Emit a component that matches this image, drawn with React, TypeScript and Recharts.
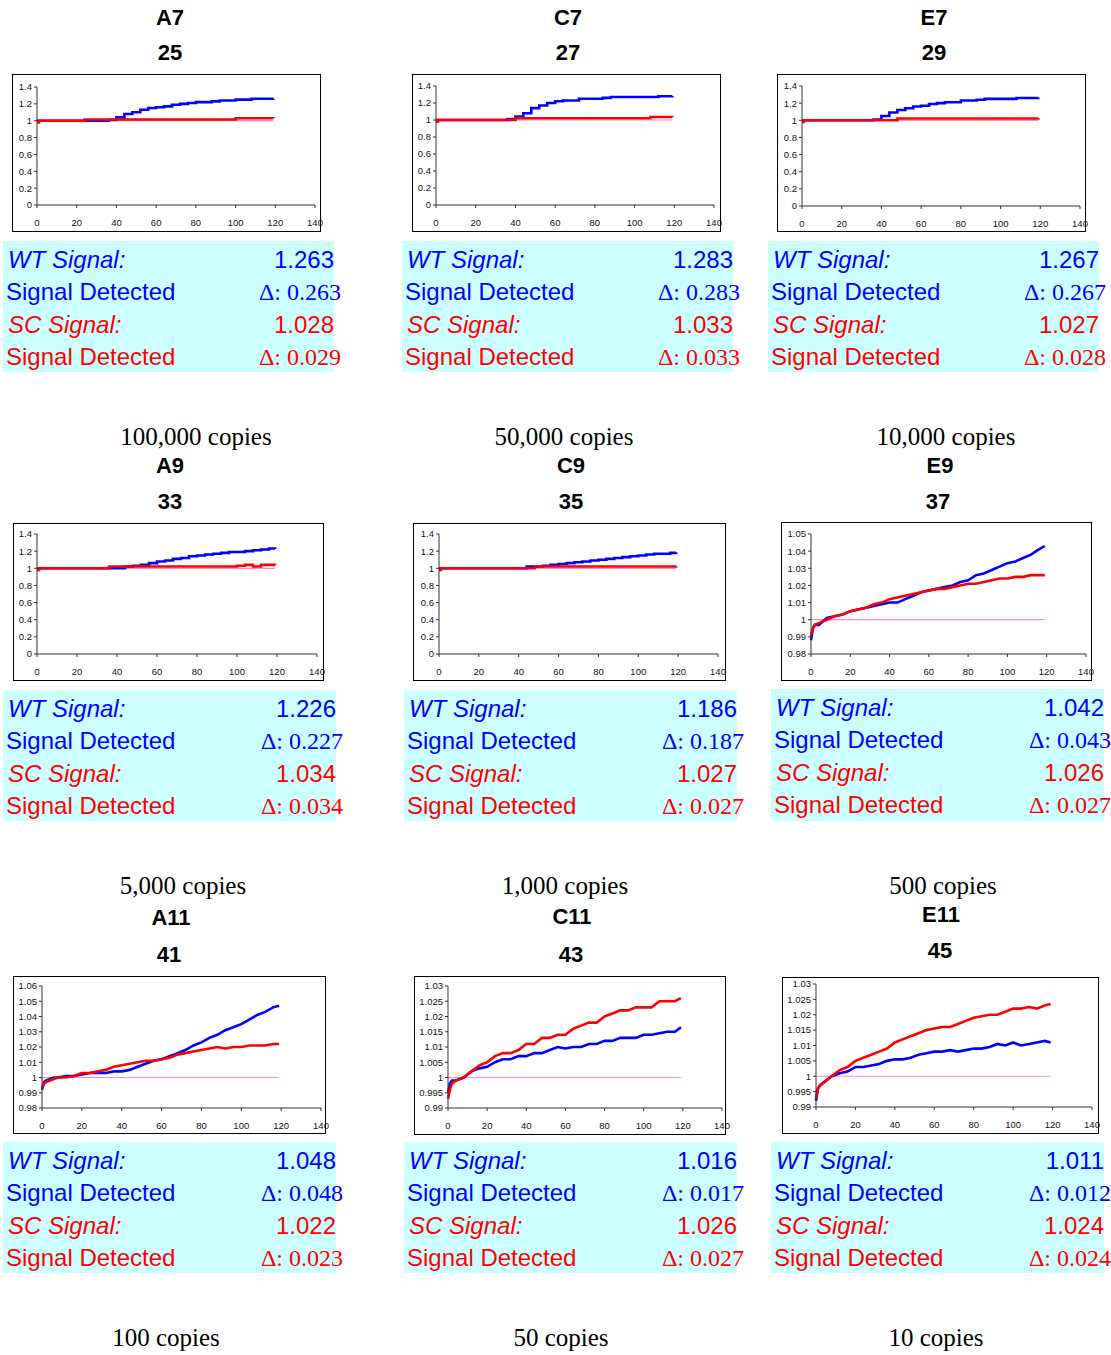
import React from "react";
import { LineChart, Line, XAxis, YAxis } from "recharts";

// sample times shared by every well
const T = [0, 1, 2, 4, 6, 8, 12, 16, 20, 24, 28, 32, 36, 40, 44, 48, 52, 56, 60, 64, 68, 72, 76, 80, 84, 88, 92, 96, 100, 104, 108, 112, 116, 119];

const A7_WT = [1.0, 1.0, 1.0, 1.0, 1.0, 1.0, 1.0, 1.0, 1.0, 1.0, 1.0, 1.0, 1.01, 1.04, 1.08, 1.10, 1.13, 1.15, 1.16, 1.17, 1.19, 1.20, 1.21, 1.22, 1.22, 1.23, 1.24, 1.24, 1.25, 1.25, 1.26, 1.26, 1.26, 1.263];
const A7_SC = [0.98, 1.0, 1.0, 1.0, 1.0, 1.0, 1.0, 1.0, 1.0, 1.015, 1.015, 1.015, 1.015, 1.015, 1.015, 1.015, 1.015, 1.015, 1.015, 1.015, 1.015, 1.015, 1.015, 1.015, 1.015, 1.015, 1.015, 1.015, 1.03, 1.03, 1.03, 1.03, 1.03, 1.028];

const C7_WT = [1.0, 1.0, 1.0, 1.0, 1.0, 1.0, 1.0, 1.0, 1.0, 1.0, 1.0, 1.0, 1.01, 1.04, 1.08, 1.14, 1.17, 1.20, 1.22, 1.23, 1.23, 1.25, 1.25, 1.25, 1.26, 1.27, 1.27, 1.27, 1.27, 1.27, 1.27, 1.28, 1.28, 1.283];
const C7_SC = [0.98, 1.0, 1.0, 1.0, 1.0, 1.0, 1.0, 1.0, 1.0, 1.0, 1.0, 1.0, 1.0, 1.02, 1.02, 1.02, 1.02, 1.02, 1.02, 1.02, 1.02, 1.02, 1.02, 1.02, 1.02, 1.02, 1.02, 1.02, 1.02, 1.02, 1.035, 1.035, 1.035, 1.033];

const E7_WT = [1.0, 1.0, 1.0, 1.0, 1.0, 1.0, 1.0, 1.0, 1.0, 1.0, 1.0, 1.0, 1.01, 1.05, 1.09, 1.12, 1.14, 1.16, 1.17, 1.19, 1.20, 1.21, 1.21, 1.23, 1.23, 1.24, 1.25, 1.25, 1.25, 1.25, 1.26, 1.26, 1.26, 1.267];
const E7_SC = [0.98, 1.0, 1.0, 1.0, 1.0, 1.0, 1.0, 1.0, 1.0, 1.0, 1.0, 1.0, 1.0, 1.0, 1.0, 1.02, 1.02, 1.02, 1.02, 1.02, 1.02, 1.02, 1.02, 1.02, 1.02, 1.02, 1.02, 1.02, 1.02, 1.02, 1.02, 1.02, 1.02, 1.027];

const A9_WT = [1.0, 1.0, 1.0, 1.0, 1.0, 1.0, 1.0, 1.0, 1.0, 1.0, 1.0, 1.0, 1.0, 1.0, 1.02, 1.03, 1.04, 1.06, 1.08, 1.09, 1.11, 1.12, 1.14, 1.15, 1.16, 1.17, 1.18, 1.19, 1.19, 1.20, 1.21, 1.22, 1.23, 1.226];
const A9_SC = [0.98, 1.0, 1.0, 1.0, 1.0, 1.0, 1.0, 1.0, 1.0, 1.0, 1.0, 1.0, 1.02, 1.02, 1.02, 1.02, 1.02, 1.02, 1.02, 1.02, 1.02, 1.02, 1.02, 1.02, 1.02, 1.02, 1.02, 1.02, 1.03, 1.04, 1.02, 1.04, 1.04, 1.034];

const C9_WT = [1.0, 1.0, 1.0, 1.0, 1.0, 1.0, 1.0, 1.0, 1.0, 1.0, 1.0, 1.0, 1.0, 1.0, 1.02, 1.02, 1.03, 1.04, 1.05, 1.06, 1.07, 1.08, 1.09, 1.10, 1.11, 1.12, 1.13, 1.14, 1.15, 1.16, 1.17, 1.17, 1.18, 1.186];
const C9_SC = [0.98, 1.0, 1.0, 1.0, 1.0, 1.0, 1.0, 1.0, 1.0, 1.0, 1.0, 1.0, 1.0, 1.0, 1.0, 1.02, 1.02, 1.02, 1.02, 1.02, 1.02, 1.02, 1.02, 1.02, 1.02, 1.02, 1.02, 1.02, 1.02, 1.02, 1.02, 1.02, 1.02, 1.027];

const E9_WT = [0.988, 0.995, 0.997, 0.997, 0.999, 1.001, 1.002, 1.003, 1.005, 1.006, 1.007, 1.008, 1.009, 1.010, 1.010, 1.012, 1.014, 1.016, 1.017, 1.018, 1.019, 1.020, 1.022, 1.023, 1.026, 1.027, 1.029, 1.031, 1.033, 1.034, 1.036, 1.038, 1.041, 1.043];
const E9_SC = [0.991, 0.995, 0.997, 0.998, 0.999, 1.000, 1.002, 1.003, 1.005, 1.006, 1.007, 1.009, 1.010, 1.012, 1.013, 1.014, 1.015, 1.016, 1.017, 1.018, 1.018, 1.019, 1.020, 1.021, 1.021, 1.022, 1.023, 1.024, 1.024, 1.025, 1.025, 1.026, 1.026, 1.026];

const A11_WT = [0.992, 0.997, 0.998, 0.999, 1.000, 1.000, 1.001, 1.001, 1.002, 1.003, 1.003, 1.003, 1.004, 1.004, 1.005, 1.007, 1.009, 1.011, 1.012, 1.014, 1.016, 1.018, 1.021, 1.023, 1.026, 1.028, 1.031, 1.033, 1.035, 1.038, 1.041, 1.043, 1.046, 1.047];
const A11_SC = [0.993, 0.996, 0.997, 0.998, 0.999, 1.000, 1.000, 1.001, 1.003, 1.003, 1.004, 1.005, 1.007, 1.008, 1.009, 1.010, 1.011, 1.011, 1.012, 1.013, 1.015, 1.016, 1.017, 1.018, 1.019, 1.020, 1.019, 1.020, 1.020, 1.021, 1.021, 1.021, 1.022, 1.022];

const C11_WT = [0.995, 0.998, 0.999, 0.999, 0.9995, 1.000, 1.002, 1.003, 1.0035, 1.005, 1.006, 1.006, 1.007, 1.007, 1.008, 1.008, 1.009, 1.010, 1.0095, 1.010, 1.010, 1.011, 1.011, 1.012, 1.012, 1.013, 1.013, 1.013, 1.014, 1.014, 1.0145, 1.015, 1.015, 1.0165];
const C11_SC = [0.993, 0.996, 0.998, 0.999, 0.9995, 1.000, 1.002, 1.004, 1.005, 1.007, 1.008, 1.008, 1.009, 1.011, 1.011, 1.013, 1.013, 1.014, 1.014, 1.016, 1.017, 1.018, 1.018, 1.020, 1.021, 1.022, 1.022, 1.023, 1.023, 1.023, 1.025, 1.025, 1.025, 1.026];

const E11_WT = [0.992, 0.996, 0.997, 0.998, 0.999, 1.000, 1.001, 1.0015, 1.003, 1.003, 1.0035, 1.004, 1.005, 1.0055, 1.0055, 1.006, 1.007, 1.0075, 1.008, 1.008, 1.0085, 1.008, 1.0085, 1.009, 1.009, 1.0095, 1.0105, 1.010, 1.011, 1.010, 1.0105, 1.011, 1.0115, 1.011];
const E11_SC = [0.993, 0.996, 0.997, 0.998, 0.999, 1.000, 1.002, 1.003, 1.005, 1.006, 1.007, 1.008, 1.009, 1.011, 1.012, 1.013, 1.014, 1.015, 1.0155, 1.016, 1.016, 1.017, 1.018, 1.019, 1.0195, 1.020, 1.020, 1.021, 1.022, 1.022, 1.0225, 1.022, 1.023, 1.0235];

const BASELINE = 1;

const X_TICKS = [0, 20, 40, 60, 80, 100, 120, 140];
const Y_COARSE = [0, 0.2, 0.4, 0.6, 0.8, 1, 1.2, 1.4];
const Y_E9 = [0.98, 0.99, 1, 1.01, 1.02, 1.03, 1.04, 1.05];
const Y_A11 = [0.98, 0.99, 1, 1.01, 1.02, 1.03, 1.04, 1.05, 1.06];
const Y_FINE = [0.99, 0.995, 1, 1.005, 1.01, 1.015, 1.02, 1.025, 1.03];

const WELLS = ["A7", "C7", "E7", "A9", "C9", "E9", "A11", "C11", "E11"];
const CYCLES = [25, 27, 29, 33, 35, 37, 41, 43, 45];
const COPIES = ["100,000 copies", "50,000 copies", "10,000 copies", "5,000 copies", "1,000 copies", "500 copies", "100 copies", "50 copies", "10 copies"];
const WT_SIGNAL = [1.263, 1.283, 1.267, 1.226, 1.186, 1.042, 1.048, 1.016, 1.011];
const WT_DELTA = [0.263, 0.283, 0.267, 0.227, 0.187, 0.043, 0.048, 0.017, 0.012];
const SC_SIGNAL = [1.028, 1.033, 1.027, 1.034, 1.027, 1.026, 1.022, 1.026, 1.024];
const SC_DELTA = [0.029, 0.033, 0.028, 0.034, 0.027, 0.027, 0.023, 0.027, 0.024];

const SERIES = [
  [A7_WT, A7_SC], [C7_WT, C7_SC], [E7_WT, E7_SC],
  [A9_WT, A9_SC], [C9_WT, C9_SC], [E9_WT, E9_SC],
  [A11_WT, A11_SC], [C11_WT, C11_SC], [E11_WT, E11_SC],
];
const Y_TICKS = [Y_COARSE, Y_COARSE, Y_COARSE, Y_COARSE, Y_COARSE, Y_E9, Y_A11, Y_FINE, Y_FINE];

// page layout: box/plot/info are [left, top, right, bottom], points are [cx, cy]
type Geom = { box: number[]; plot: number[]; t1: number[]; t2: number[]; info: number[]; copies: number[] };
const GEOM: Geom[] = [
  { box: [12, 74, 320, 231], plot: [37, 87, 314, 204], t1: [170, 18], t2: [170, 53], info: [3, 241, 333, 371], copies: [196, 437] },
  { box: [412, 74, 720, 231], plot: [436, 86, 713, 204], t1: [568, 18], t2: [568, 53], info: [402, 241, 732, 371], copies: [564, 437] },
  { box: [777, 74, 1085, 231], plot: [802, 86, 1079, 205], t1: [934, 18], t2: [934, 53], info: [768, 241, 1098, 371], copies: [946, 437] },
  { box: [13, 523, 323, 680], plot: [37, 534, 316, 653], t1: [170, 466], t2: [170, 502], info: [3, 690, 335, 820], copies: [183, 886] },
  { box: [413, 523, 725, 680], plot: [439, 534, 717, 653], t1: [571, 466], t2: [571, 502], info: [404, 690, 736, 820], copies: [565, 886] },
  { box: [781, 522, 1091, 680], plot: [811, 534, 1085, 653], t1: [940, 466], t2: [938, 502], info: [771, 689, 1103, 820], copies: [943, 886] },
  { box: [13, 976, 325, 1133], plot: [42, 986, 320, 1107], t1: [171, 918], t2: [169, 955], info: [3, 1142, 335, 1272], copies: [166, 1338] },
  { box: [414, 976, 725, 1134], plot: [448, 986, 721, 1107], t1: [572, 917], t2: [571, 955], info: [404, 1142, 736, 1272], copies: [561, 1338] },
  { box: [782, 977, 1098, 1133], plot: [816, 984, 1091, 1106], t1: [941, 915], t2: [940, 951], info: [771, 1142, 1103, 1272], copies: [936, 1338] },
];

const SANS = "'Liberation Sans', Arial, sans-serif";
const SERIF = "'Liberation Serif', 'Times New Roman', serif";
const BLUE = "#0000ff";
const RED = "#ff0000";

const tickStyle = { fontSize: 9.5, fill: "#111", fontFamily: SANS };

function Centered({ at, children, style }: { at: number[]; children: React.ReactNode; style: React.CSSProperties }) {
  return (
    <div style={{ position: "absolute", left: at[0] - 100, top: at[1] - 15, width: 200, height: 30, lineHeight: "30px", textAlign: "center", whiteSpace: "nowrap", ...style }}>
      {children}
    </div>
  );
}

function Panel({ i }: { i: number }) {
  const g = GEOM[i];
  const [wt, sc] = SERIES[i];
  const yt = Y_TICKS[i];
  const coarse = yt === Y_COARSE;
  const rows = T.map((t, k) => ({ t, wt: wt[k], sc: sc[k], base: BASELINE }));

  const [bl, bt, br, bb] = g.box;
  const bw = br - bl + 1;
  const bh = bb - bt + 1;
  const yW = g.plot[0] - (bl + 1);
  const mt = g.plot[1] - (bt + 1);
  const mr = br - 1 - g.plot[2];
  const mb = bb - 1 - g.plot[3] - 20;

  const [il, it, ir, ib] = g.info;
  const rowTop = [19, 51, 83.5, 116];
  const lines = [
    { left: "WT Signal:", right: WT_SIGNAL[i].toFixed(3), color: BLUE, italic: true, serif: false },
    { left: "Signal Detected", right: "\u0394: " + WT_DELTA[i].toFixed(3), color: BLUE, italic: false, serif: true },
    { left: "SC Signal:", right: SC_SIGNAL[i].toFixed(3), color: RED, italic: true, serif: false },
    { left: "Signal Detected", right: "\u0394: " + SC_DELTA[i].toFixed(3), color: RED, italic: false, serif: true },
  ];

  return (
    <>
      <Centered at={g.t1} style={{ fontFamily: SANS, fontWeight: "bold", fontSize: 22 }}>{WELLS[i]}</Centered>
      <Centered at={g.t2} style={{ fontFamily: SANS, fontWeight: "bold", fontSize: 22 }}>{CYCLES[i]}</Centered>

      <div style={{ position: "absolute", left: bl, top: bt, width: bw, height: bh, border: "1px solid #000", boxSizing: "border-box", background: "#fff" }}>
        <LineChart width={bw - 2} height={bh - 2} data={rows} margin={{ top: mt, right: mr, bottom: mb, left: 0 }}>
          <XAxis
            dataKey="t" type="number" domain={[0, 140]} ticks={X_TICKS} interval={0}
            height={20} tickSize={3} tickMargin={11}
            tick={tickStyle} axisLine={{ stroke: "#333" }} tickLine={{ stroke: "#333" }}
          />
          <YAxis
            type="number" domain={[yt[0], yt[yt.length - 1]]} ticks={yt} interval={0}
            width={yW} tickSize={3} tickMargin={2}
            tick={tickStyle} axisLine={{ stroke: "#333" }} tickLine={{ stroke: "#333" }}
          />
          <Line dataKey="base" stroke="#ff88cc" strokeWidth={1.2} dot={false} isAnimationActive={false} />
          <Line dataKey="wt" type={coarse ? "stepAfter" : "linear"} stroke={BLUE} strokeWidth={2.6} dot={false} isAnimationActive={false} />
          <Line dataKey="sc" type={coarse ? "stepAfter" : "linear"} stroke={RED} strokeWidth={2.6} dot={false} isAnimationActive={false} />
        </LineChart>
      </div>

      <div style={{ position: "absolute", left: il, top: it, width: ir - il + 1, height: ib - it + 1, background: "#ccffff" }}>
        {lines.map((ln, k) => (
          <React.Fragment key={k}>
            <div style={{ position: "absolute", left: ln.italic ? 5 : 3, top: rowTop[k] - 16, height: 32, lineHeight: "32px", fontSize: 24, fontFamily: SANS, fontStyle: ln.italic ? "italic" : "normal", color: ln.color, whiteSpace: "nowrap" }}>
              {ln.left}
            </div>
            <div style={{ position: "absolute", right: ln.serif ? -7 : 0, top: rowTop[k] - 16, height: 32, lineHeight: "32px", fontSize: 24, fontFamily: ln.serif ? SERIF : SANS, color: ln.color, whiteSpace: "nowrap", textAlign: "right" }}>
              {ln.right}
            </div>
          </React.Fragment>
        ))}
      </div>

      <Centered at={g.copies} style={{ fontFamily: SERIF, fontSize: 25 }}>{COPIES[i]}</Centered>
    </>
  );
}

export default function App() {
  return (
    <div style={{ position: "absolute", left: 0, top: 0, width: 1111, height: 1355, background: "#fff", overflow: "hidden" }}>
      <style>{`.recharts-surface{overflow:visible}`}</style>
      {WELLS.map((_, i) => (
        <Panel key={i} i={i} />
      ))}
    </div>
  );
}
